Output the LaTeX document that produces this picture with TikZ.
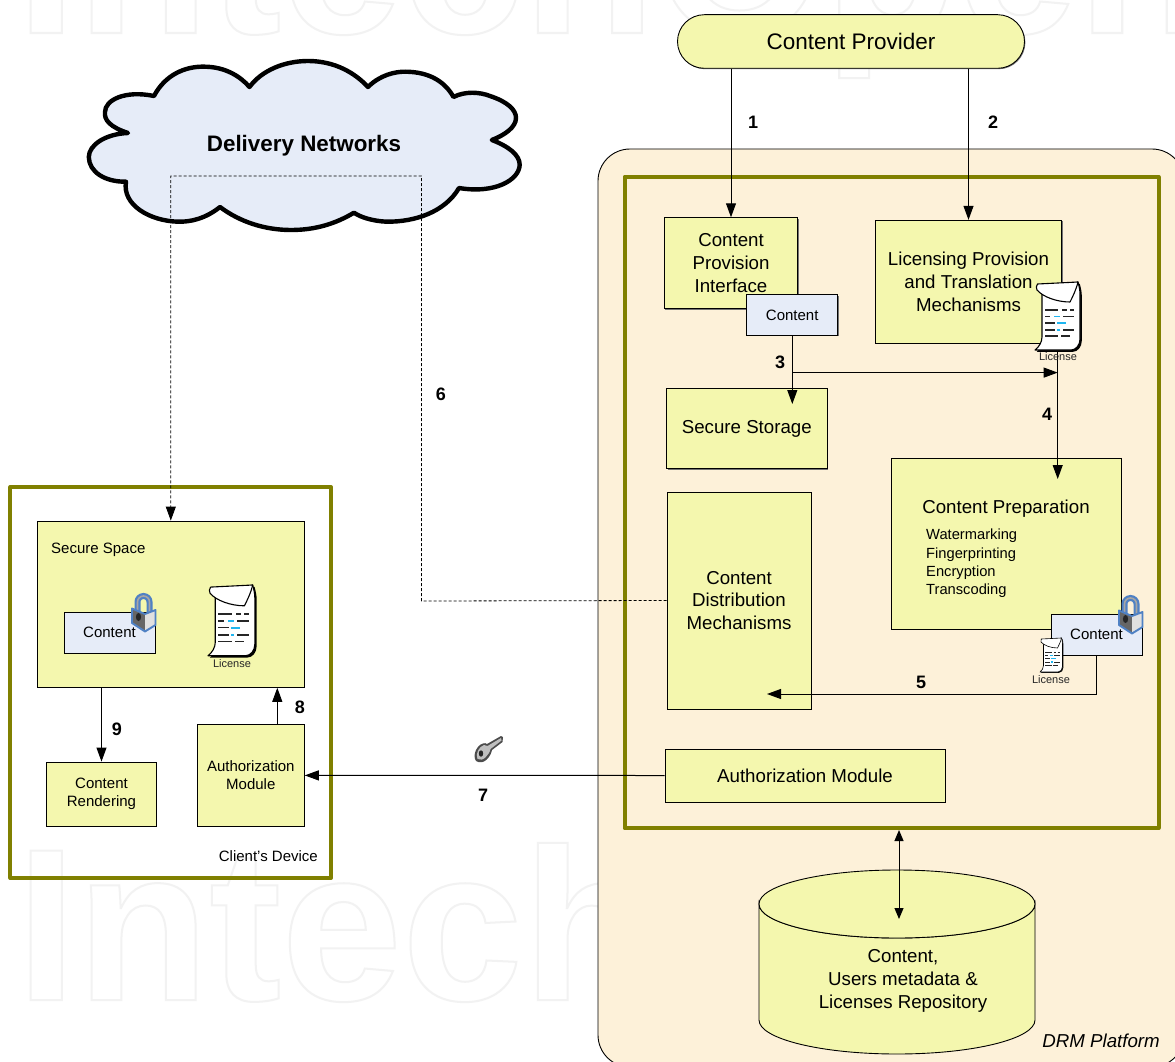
\documentclass[tikz,border=0pt]{standalone}
\usepackage{fontspec}
\setmainfont{Liberation Sans}
\usetikzlibrary{arrows.meta,shadows,shapes.misc,shapes.geometric}
\definecolor{boxyellow}{HTML}{F4F7AE}
\definecolor{panelcream}{HTML}{FDF1D9}
\definecolor{paleblue}{HTML}{E6ECF8}
\definecolor{olivebar}{HTML}{808000}
\definecolor{wmgrey}{HTML}{F2F2F2}
\definecolor{lockblue}{HTML}{4F81C4}
\definecolor{dashcyan}{HTML}{1FB6F0}
\newcommand{\licensebody}[1]{%
    \fill[black,shift={(1.8,1.8)}]
      (7,8) -- (7,55) .. controls (7,60) and (4,65) .. (0,68) -- (36,68)
      .. controls (41,68) and (45,63) .. (45,57) -- (45,12) .. controls (45,8) and (44,4) .. (43,0) -- cycle;
    \draw[fill=white,line width=#1*1.1pt,line join=round]
      (7,8) -- (7,55) .. controls (7,60) and (4,65) .. (0,68) -- (36,68)
      .. controls (41,68) and (45,63) .. (45,57) -- (45,12) .. controls (45,8) and (44,4) .. (43,0) -- cycle;
    \draw[fill=white,line width=#1*1.1pt,line join=round]
      (2.5,2) -- (43,0) .. controls (41,8) and (38,14) .. (35,20)
      .. controls (22,20) and (8,15) .. (2,8) .. controls (1,6) and (1,4) .. (2.5,2) -- cycle;
    \foreach \a/\b/\y in {10/23/28,27/32/28,35/39/28,10/15/34.5,28/39/34.5,10/20/41,10/20/48,28/39/48,10/23/54,26/35/54}
      \draw[black!85,line width=#1*1.3pt] (\a,\y) -- (\b,\y);
    \foreach \a/\b/\y in {19/25/34.5,22/31/41,22/25/48}
      \draw[dashcyan,line width=#1*1.9pt] (\a,\y) -- (\b,\y);
}
\tikzset{
  x=1pt,y=-1pt,
  box/.style={draw=black,line width=.9pt,fill=boxyellow,align=center,inner sep=0pt,
    font=\fontsize{18.7}{22.7}\selectfont,
    general shadow={shadow xshift=.9pt,shadow yshift=-.9pt,fill=black!55}},
  smallbox/.style={box,font=\fontsize{15}{18}\selectfont},
  contentbox/.style={box,fill=paleblue,font=\fontsize{15}{18}\selectfont},
  olive/.style={draw=olivebar,line width=4pt,line join=round},
  conn/.style={draw=black,line width=1pt,-{Triangle[length=14pt,width=10pt]}},
  num/.style={font=\fontsize{18}{18}\selectfont\bfseries,inner sep=0pt},
  tinytext/.style={font=\fontsize{11}{11}\selectfont,inner sep=0pt,text=black!85},
  wm/.style={inner sep=0pt,anchor=base west,font=\fontsize{217}{217}\selectfont\bfseries},
  license/.pic={\licensebody{1}},
  smalllicense/.pic={\licensebody{.55}},
  padlock/.pic={
    \draw[lockblue,line width=6pt] (6.5,20) -- (6.5,9) arc[start angle=180,end angle=360,radius=6] -- (18.5,20);
    \draw[black!35,line width=1.6pt] (6.5,20) -- (6.5,9) arc[start angle=180,end angle=360,radius=6] -- (18.5,20);
    \fill[black!60] (1,15.5) -- (14,21) -- (14,38) -- (1,30) -- cycle;
    \fill[black!12] (14,21) -- (24.5,17) -- (24.5,32) -- (14,38) -- cycle;
    \draw[lockblue,line width=1.9pt,line join=round] (1,15.5) -- (14,21) -- (24.5,17) -- (24.5,32) -- (14,38.5) -- (1,30) -- cycle;
    \fill[black!85] (7.5,24) ellipse[x radius=2.6,y radius=4];
  },
  keyicon/.pic={
    \fill[black!70] (2,26) .. controls (-2,20) and (3,10) .. (9,8.5) .. controls (11,8) and (12,8) .. (13,9)
      -- (27,1) -- (29,2) -- (28.5,7) -- (18,15) .. controls (17,21) and (10,31) .. (2,26) -- cycle;
    \fill[black!25] (3.5,24) .. controls (1,19) and (5,11.5) .. (10,10) -- (13.5,11) -- (27,3) -- (27.5,5.5) -- (16.5,14) .. controls (15.5,19) and (9,27.5) .. (3.5,24) -- cycle;
    \fill[black!85] (7,18.5) ellipse[x radius=2.2,y radius=3.2];
  },
}
\begin{document}
\begin{tikzpicture}
\path[use as bounding box,clip] (0,0) rectangle (1175,1062);
\fill[white] (0,0) rectangle (1175,1062);

% watermark
\node[wm] (wmtop) at (16,33) {\special{pdf:code 1 Tr 2 w 0.949 G}IntechOpen\special{pdf:code 0 Tr 1 w 0 G}};
\node[wm] (wmbottom) at (16,1000) {\special{pdf:code 1 Tr 2 w 0.949 G}Intech\special{pdf:code 0 Tr 1 w 0 G}};

% DRM platform panel
\node[draw=black,line width=.9pt,fill=panelcream,rounded corners=32pt,minimum width=586pt,minimum height=918pt,inner sep=0pt] (panel) at (891,608) {};
\node[olive,minimum width=534pt,minimum height=651.5pt,inner sep=0pt] (drmframe) at (891.5,502.5) {};
\node[olive,minimum width=320.5pt,minimum height=391pt,inner sep=0pt] (clientframe) at (170.7,682.5) {};

% cloud
\path[draw=black,line width=4.4pt,fill=paleblue,line join=round]
  (128,133) .. controls (110,127) and (104,120) .. (105,112) .. controls (105,100) and (125,90) .. (154,96)
  .. controls (165,75) and (185,66) .. (205,66.7) .. controls (225,67) and (240,76) .. (249.5,87)
  .. controls (262,70) and (285,61) .. (308,61) .. controls (335,61) and (355,73) .. (368,87)
  .. controls (380,75) and (395,71.5) .. (405.7,71.7) .. controls (430,72) and (445,82) .. (453.5,97)
  .. controls (465,91) and (480,92) .. (490,96) .. controls (508,102) and (516,110) .. (516,118)
  .. controls (516,127) and (505,135) .. (491.8,140)
  .. controls (508,146) and (520,155) .. (519.7,165) .. controls (519,180) and (495,194) .. (459,188)
  .. controls (445,212) and (415,222) .. (386.5,221.7) .. controls (372,221) and (360,217) .. (354,212.7)
  .. controls (335,224) and (315,230) .. (291,230) .. controls (265,230) and (240,222) .. (220,207)
  .. controls (205,219) and (190,222) .. (178,221.7) .. controls (150,221) and (122,205) .. (126,181.7)
  .. controls (105,182) and (89,172) .. (88.8,157) .. controls (89,145) and (105,134) .. (128,133) -- cycle;
\node[font=\fontsize{22.4}{24}\selectfont\bfseries,inner sep=0pt] (cloudtext) at (304,146) {Delivery Networks};

% provider
\node[box,rounded rectangle,minimum width=347pt,minimum height=53.6pt,font=\fontsize{22.5}{24}\selectfont,text depth=1pt] (provider) at (851,41.5) {Content Provider};

% DRM boxes
\node[box,minimum width=133.4pt,minimum height=91pt] (cpi) at (731,263.2) {Content\\Provision\\Interface};
\node[box,minimum width=186.4pt,minimum height=123pt] (lpt) at (968.5,281.8) {Licensing Provision\\and Translation\\Mechanisms};
\node[box,minimum width=160.3pt,minimum height=80pt] (store) at (746.8,428.7) {Secure Storage};
\node[box,minimum width=230pt,minimum height=171pt] (prep) at (1006,543.5) {};
\node[box,minimum width=144pt,minimum height=217pt] (dist) at (739,600.5) {Content\\Distribution\\Mechanisms};
\node[box,minimum width=280pt,minimum height=53pt] (authr) at (805,775.5) {Authorization Module};

\node[inner sep=0pt,font=\fontsize{18.7}{22.7}\selectfont] (preptitle) at (1006,509) {Content Preparation};
\node[inner sep=0pt,anchor=north west,align=left,font=\fontsize{14.7}{18.2}\selectfont] (preplist) at (926,529) {Watermarking\\Fingerprinting\\Encryption\\Transcoding};

% client boxes
\node[box,minimum width=267pt,minimum height=166.3pt] (space) at (170.8,604.2) {};
\node[inner sep=0pt,anchor=west,font=\fontsize{15}{18}\selectfont] (spacetitle) at (51,549.5) {Secure Space};
\node[smallbox,minimum width=109.6pt,minimum height=64pt] (render) at (101.5,794) {Content\\Rendering};
\node[smallbox,minimum width=107pt,minimum height=101.3pt] (authl) at (250.8,775.4) {Authorization\\Module};
\node[inner sep=0pt,anchor=east,font=\fontsize{15}{18}\selectfont] (devtext) at (318,856) {Client's Device};

% repository
\path[draw=black,line width=.9pt,fill=boxyellow]
  (759,904) -- (759,1020) arc[start angle=180,end angle=0,x radius=138,y radius=34] -- (1035,904)
  arc[start angle=0,end angle=180,x radius=138,y radius=34] -- cycle;
\path[draw=black,line width=.9pt,fill=boxyellow] (897,904) ellipse[x radius=138,y radius=34];
\coordinate (repotop) at (899,919);
\node[inner sep=0pt,align=center,font=\fontsize{18.7}{22.9}\selectfont] (repotext) at (903,981) {Content,\\Users metadata \&\\Licenses Repository};
\node[inner sep=0pt,anchor=east,font=\fontsize{18.7}{22}\selectfont\itshape] (drmlabel) at (1160,1041) {DRM Platform};

% connector helpers
\coordinate (tip3) at (792.3,404);
\coordinate (branch) at (792.3,372.6);
\coordinate (tip3b) at (1057.7,372.6);
\coordinate (start4) at (1057.7,350);
\coordinate (tip4) at (1057.7,479);
\coordinate (start5) at (1096.5,655);
\coordinate (bend5) at (1096.5,694);
\coordinate (tip5) at (767,694);
\coordinate (bend6a) at (421.5,601);
\coordinate (bend6b) at (421.5,176);
\coordinate (bend6c) at (170.8,176);
\coordinate (frametop) at (899,830);

% connectors
\draw[conn] (provider.south -| cpi.north) -- (cpi.north);
\draw[conn] (provider.south -| lpt.north) -- (lpt.north);
\draw[conn] (792.3,335.3) -- (tip3);
\draw[conn] (branch) -- (tip3b);
\draw[conn] (start4) -- (tip4);
\draw[conn] (start5) -- (bend5) -- (tip5);
\draw[conn,line width=.8pt,dash pattern=on 3pt off 2pt,-{Triangle[length=14pt,width=10pt]}] (dist.west) -- (bend6a) -- (bend6b) -- (bend6c) -- (space.north);
\draw[conn] (authr.west) -- (authl.east);
\draw[conn] (authl.north -| 277.3,0) -- (space.south -| 277.3,0);
\draw[conn] (space.south -| render.north) -- (render.north);
\draw[draw=black,line width=1pt,{Triangle[length=11pt,width=9pt]}-{Triangle[length=11pt,width=9pt]}] (frametop) -- (repotop);

% content boxes on top
\node[contentbox,minimum width=91pt,minimum height=40.6pt] (content1) at (792.2,315) {Content};
\node[contentbox,minimum width=91pt,minimum height=41pt] (content2) at (1096.5,634.5) {Content};
\node[contentbox,minimum width=91pt,minimum height=41pt] (content3) at (109.5,632.5) {Content};

% icons
\pic at (1035,282) {license};
\node[tinytext] (lic1) at (1058,357) {License};
\pic[scale=.5] at (1040,638) {smalllicense};
\node[tinytext] (lic2) at (1051,680) {License};
\pic[scale=1.04] at (208,585) {license};
\node[tinytext] (lic3) at (232,664) {License};
\pic at (1118,595) {padlock};
\pic at (131,593) {padlock};
\pic at (474,735) {keyicon};

% step numbers
\node[num] (n1) at (753,122) {1};
\node[num] (n2) at (993,122) {2};
\node[num] (n3) at (780,362) {3};
\node[num] (n4) at (1047,414) {4};
\node[num] (n5) at (921,682) {5};
\node[num] (n6) at (441,394) {6};
\node[num] (n7) at (483,795) {7};
\node[num] (n8) at (300,707) {8};
\node[num] (n9) at (117,729) {9};
\end{tikzpicture}
\end{document}
